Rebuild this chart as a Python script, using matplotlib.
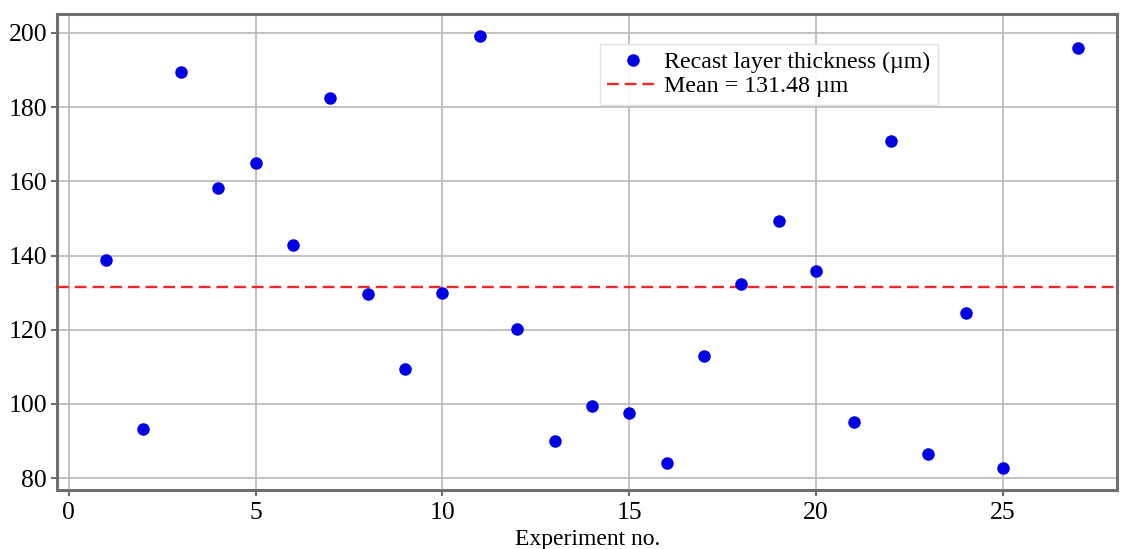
"""
Recast layer thickness per experiment, with the overall mean as a reference line.
Writes out.png
"""

import matplotlib
matplotlib.use("Agg")
import matplotlib.pyplot as plt

plt.rcParams.update({
    "font.family": ["Liberation Serif", "DejaVu Serif"],
    "font.size": 17,
    "axes.edgecolor": "#6E6E6E",
    "axes.linewidth": 2.2,
    "xtick.color": "#6E6E6E",
    "ytick.color": "#6E6E6E",
    "xtick.labelcolor": "black",
    "ytick.labelcolor": "black",
})

# experiment numbers and measured thickness (µm)
EXPERIMENTS = [1, 2, 3, 4, 5, 6, 7, 8, 9, 10, 11, 12, 13,
               14, 15, 16, 17, 18, 19, 20, 21, 22, 23, 24, 25, 27]
THICKNESS = [138.9, 93.2, 189.6, 158.1, 164.9, 142.7, 182.4, 129.6, 109.5,
             129.9, 199.3, 120.3, 90.1, 99.5, 97.5, 84.2, 112.8, 132.2,
             149.3, 135.9, 95.2, 170.9, 86.4, 124.5, 82.6, 195.9]
MEAN = 131.48

fig = plt.figure(figsize=(11.23, 5.49), dpi=100)
ax = fig.add_axes([0.0512, 0.1075, 0.9435, 0.867])

ax.plot(EXPERIMENTS, THICKNESS, "o", color="#0000E6", markersize=8,
        label="Recast layer thickness (\u00b5m)", zorder=5)
ax.axhline(MEAN, color="#F02828", linestyle="--", linewidth=1.7, dashes=(5, 2.5),
           label=f"Mean = {MEAN:.2f} \u00b5m", zorder=4)

ax.set_xlim(-0.3, 28.05)
ax.set_ylim(76.8, 205.1)
ax.set_xticks([0, 5, 10, 15, 20, 25])
ax.set_yticks([80, 100, 120, 140, 160, 180, 200])
ax.tick_params(axis="both", length=4, width=1.5, labelsize=18.5)
ax.tick_params(axis="x", pad=5)

ax.grid(True, color="#BDBDBD", linewidth=1.3)
ax.set_axisbelow(True)

ax.set_xlabel("Experiment no.", fontsize=17, labelpad=3)

ax.legend(loc="upper left", bbox_to_anchor=(0.512, 0.937), borderaxespad=0,
          fontsize=17.2, frameon=True, fancybox=False, edgecolor="#E0E0E0",
          framealpha=0.9, handlelength=2.2, handletextpad=0.2,
          borderpad=0.3, labelspacing=0.12)

fig.savefig("out.png", dpi=100)
